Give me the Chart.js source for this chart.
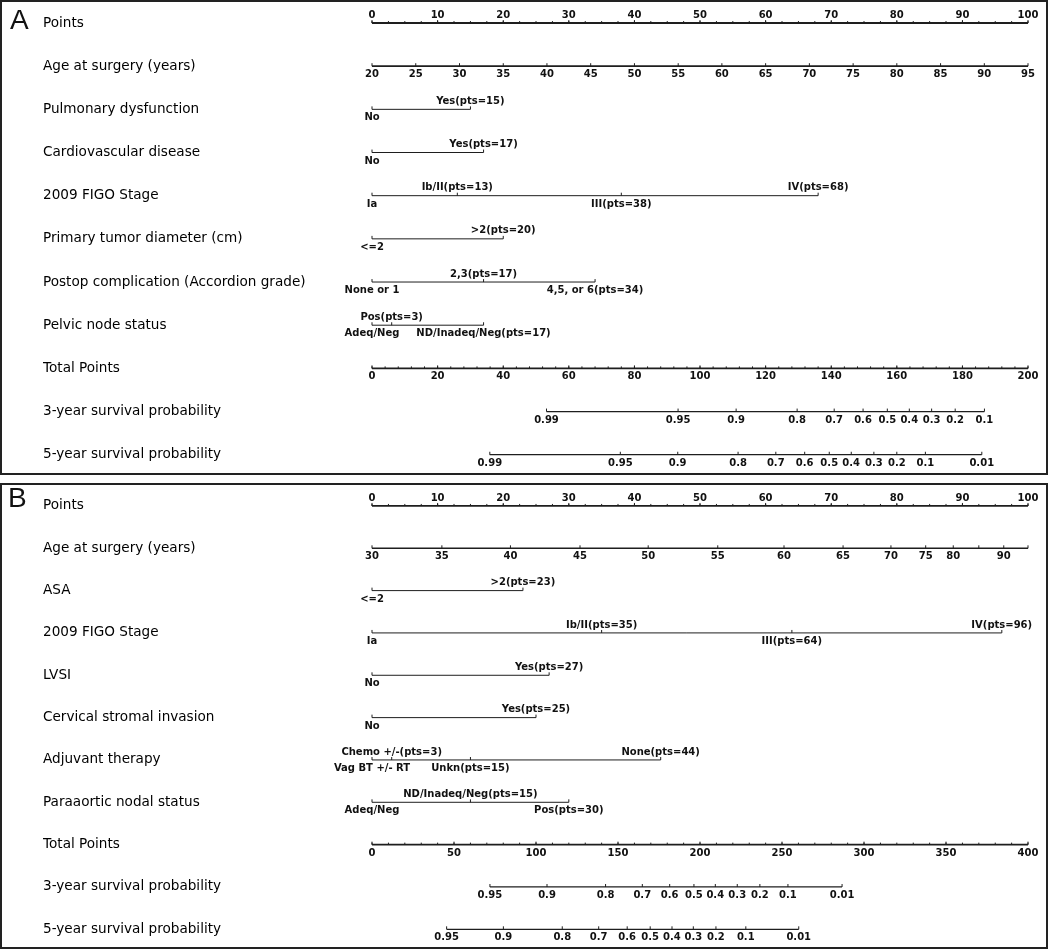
<!DOCTYPE html>
<html>
<head>
<meta charset="utf-8">
<title>Nomograms A and B</title>
<script src="https://cdn.jsdelivr.net/npm/chart.js@4.4.0/dist/chart.umd.min.js"></script>
<style>
    body { margin: 0; background: #fff; width: 1050px; height: 950px; position: relative; overflow: hidden; }
    .panel { position: absolute; left: 0; width: 1048px; border: 2px solid #222; box-sizing: border-box; }
    #panel-a { top: 0; height: 475px; }
    #panel-b { top: 483px; height: 466px; }
    .panel canvas { display: block; }
    .tag { position: absolute; font-family: "Liberation Sans", Arial, sans-serif; font-size: 28px; line-height: 1; color: #111; }
</style>
</head>
<body>
<div class="panel" id="panel-a"><canvas id="chart-a" width="1044" height="471"></canvas></div>
<div class="panel" id="panel-b"><canvas id="chart-b" width="1044" height="462"></canvas></div>
<span class="tag" style="left:10px; top:6px;">A</span>
<span class="tag" style="left:8px; top:484px;">B</span>

<script>
// --- Panel A data ---
const rowsA = ['Points', 'Age at surgery (years)', 'Pulmonary dysfunction', 'Cardiovascular disease',
    '2009 FIGO Stage', 'Primary tumor diameter (cm)', 'Postop complication (Accordion grade)',
    'Pelvic node status', 'Total Points', '3-year survival probability', '5-year survival probability'];

const pointsTicks = [0, 10, 20, 30, 40, 50, 60, 70, 80, 90, 100];
const ageATicks = [20, 25, 30, 35, 40, 45, 50, 55, 60, 65, 70, 75, 80, 85, 90, 95];

const pulmText = ['No', 'Yes(pts=15)'];
const pulmPts = [0, 15];
const cardioText = ['No', 'Yes(pts=17)'];
const cardioPts = [0, 17];
const figoAText = ['Ia', 'Ib/II(pts=13)', 'III(pts=38)', 'IV(pts=68)'];
const figoAPts = [0, 13, 38, 68];
const tumorText = ['<=2', '>2(pts=20)'];
const tumorPts = [0, 20];
const postopText = ['None or 1', '2,3(pts=17)', '4,5, or 6(pts=34)'];
const postopPts = [0, 17, 34];
const pelvicText = ['Adeq/Neg', 'Pos(pts=3)', 'ND/Inadeq/Neg(pts=17)'];
const pelvicPts = [0, 3, 17];

const totalATicks = [0, 20, 40, 60, 80, 100, 120, 140, 160, 180, 200];
const surv3AText = ['0.99', '0.95', '0.9', '0.8', '0.7', '0.6', '0.5', '0.4', '0.3', '0.2', '0.1'];
const surv3ATotal = [53.2, 93.3, 111.0, 129.6, 140.9, 149.7, 157.1, 163.8, 170.6, 177.8, 186.7];
const surv5AText = ['0.99', '0.95', '0.9', '0.8', '0.7', '0.6', '0.5', '0.4', '0.3', '0.2', '0.1', '0.01'];
const surv5ATotal = [35.9, 75.7, 93.2, 111.6, 123.1, 131.9, 139.4, 146.1, 153.0, 160.0, 168.7, 185.9];

// --- Panel B data ---
const rowsB = ['Points', 'Age at surgery (years)', 'ASA', '2009 FIGO Stage', 'LVSI',
    'Cervical stromal invasion', 'Adjuvant therapy', 'Paraaortic nodal status', 'Total Points',
    '3-year survival probability', '5-year survival probability'];

// age is non-linear here, so keep the points each age sits on
const ageBText = ['30', '35', '40', '45', '50', '55', '60', '65', '70', '75', '80', '', '90', ''];
const ageBPts = [0, 10.65, 21.1, 31.7, 42.1, 52.7, 62.8, 71.8, 79.1, 84.4, 88.6, 92.5, 96.3, 100];

const asaText = ['<=2', '>2(pts=23)'];
const asaPts = [0, 23];
const figoBText = ['Ia', 'Ib/II(pts=35)', 'III(pts=64)', 'IV(pts=96)'];
const figoBPts = [0, 35, 64, 96];
const lvsiText = ['No', 'Yes(pts=27)'];
const lvsiPts = [0, 27];
const stromaText = ['No', 'Yes(pts=25)'];
const stromaPts = [0, 25];
const adjText = ['Vag BT +/- RT', 'Chemo +/-(pts=3)', 'Unkn(pts=15)', 'None(pts=44)'];
const adjPts = [0, 3, 15, 44];
const paraText = ['Adeq/Neg', 'ND/Inadeq/Neg(pts=15)', 'Pos(pts=30)'];
const paraPts = [0, 15, 30];

const totalBTicks = [0, 50, 100, 150, 200, 250, 300, 350, 400];
const surv3BText = ['0.95', '0.9', '0.8', '0.7', '0.6', '0.5', '0.4', '0.3', '0.2', '0.1', '0.01'];
const surv3BTotal = [71.9, 106.7, 142.4, 164.8, 181.5, 196.3, 209.3, 222.7, 236.5, 253.6, 286.6];
const surv5BText = ['0.95', '0.9', '0.8', '0.7', '0.6', '0.5', '0.4', '0.3', '0.2', '0.1', '0.01'];
const surv5BTotal = [45.5, 80.1, 116.0, 138.2, 155.6, 169.6, 182.9, 195.9, 209.7, 227.9, 260.2];

// --- Styling ---
const INK = '#1e1e1e';
const TICK_FONT = 'bold 10px "DejaVu Sans", sans-serif';

// small upward ticks, used as point styles
function makeTick(len) {
    const c = document.createElement('canvas');
    c.width = 3;
    c.height = 8;
    const g = c.getContext('2d');
    g.fillStyle = INK;
    g.fillRect(1, 4 - len, 1, len);
    return c;
}
const majorTick = makeTick(3);
const minorTick = makeTick(2);

function minorTicks(max, step) {
    const out = [];
    for (let v = 0; v <= max + 1e-9; v += step) out.push(v);
    return out;
}

function lineDs(row, from, to, axis, width) {
    return {
        type: 'line',
        data: [{ x: from, y: row }, { x: to, y: row }],
        xAxisID: axis,
        borderColor: INK,
        borderWidth: width,
        pointRadius: 0,
        clip: false
    };
}

function tickDs(row, xs, axis, texts, sides, style) {
    return {
        type: 'scatter',
        data: xs.map(x => ({ x, y: row })),
        xAxisID: axis,
        pointStyle: style || majorTick,
        pointRadius: 3,
        tickText: texts || null,
        textSide: sides || null,
        clip: false
    };
}

function catRow(row, texts, pts, sides) {
    return [
        lineDs(row, Math.min(...pts), Math.max(...pts), 'x', 1),
        tickDs(row, pts, 'x', texts, sides)
    ];
}

function survRow(row, texts, totals) {
    return [
        lineDs(row, totals[0], totals[totals.length - 1], 'xTot', 1.2),
        tickDs(row, totals, 'xTot', texts, texts.map(() => 'b'))
    ];
}

// text next to each tick, placed through the dataset's own point positions
const tickTextPlugin = {
    id: 'tickText',
    afterDatasetsDraw(chart) {
        const ctx = chart.ctx;
        ctx.save();
        ctx.font = TICK_FONT;
        ctx.fillStyle = '#111';
        ctx.textAlign = 'center';
        ctx.textBaseline = 'middle';
        chart.data.datasets.forEach((ds, i) => {
            if (!ds.tickText) return;
            const meta = chart.getDatasetMeta(i);
            meta.data.forEach((pt, j) => {
                const t = ds.tickText[j];
                if (!t) return;
                const dy = ds.textSide[j] === 'a' ? -8 : 8.5;
                ctx.fillText(t, pt.x, pt.y + dy);
            });
        });
        ctx.restore();
    }
};

function makeChart(canvasId, rows, datasets, ageRange, totalMax, pad) {
    const ctx = document.getElementById(canvasId).getContext('2d');
    const scales = {
        x: { type: 'linear', min: 0, max: 100, display: false },
        xTot: { type: 'linear', axis: 'x', min: 0, max: totalMax, display: false },
        y: {
            type: 'linear',
            reverse: true,
            min: -0.3,
            max: rows.length - 1 + 0.3,
            grid: { display: false },
            border: { display: false },
            afterBuildTicks: scale => {
                scale.ticks = rows.map((_, i) => ({ value: i }));
            },
            afterFit: scale => {
                scale.width = 329;
                scale.paddingTop = 0;
                scale.paddingBottom = 0;
            },
            ticks: {
                autoSkip: false,
                padding: 0,
                crossAlign: 'far',
                color: '#000',
                font: { family: '"DejaVu Sans", sans-serif', size: 13.6 },
                callback: v => rows[v]
            }
        }
    };
    if (ageRange) {
        scales.xAge = { type: 'linear', axis: 'x', min: ageRange[0], max: ageRange[1], display: false };
    }
    return new Chart(ctx, {
        type: 'scatter',
        data: { datasets },
        options: {
            responsive: false,
            animation: false,
            events: [],
            layout: { padding: pad },
            plugins: { legend: { display: false }, tooltip: { enabled: false } },
            scales
        },
        plugins: [tickTextPlugin]
    });
}

// --- Panel A ---
const dsA = [
    lineDs(0, 0, 100, 'x', 1.8),
    tickDs(0, minorTicks(100, 2.5), 'x', null, null, minorTick),
    tickDs(0, pointsTicks, 'x', pointsTicks.map(String), pointsTicks.map(() => 'a')),

    lineDs(1, 20, 95, 'xAge', 1.6),
    tickDs(1, ageATicks, 'xAge', ageATicks.map(String), ageATicks.map(() => 'b')),

    ...catRow(2, pulmText, pulmPts, ['b', 'a']),
    ...catRow(3, cardioText, cardioPts, ['b', 'a']),
    ...catRow(4, figoAText, figoAPts, ['b', 'a', 'b', 'a']),
    ...catRow(5, tumorText, tumorPts, ['b', 'a']),
    ...catRow(6, postopText, postopPts, ['b', 'a', 'b']),
    ...catRow(7, pelvicText, pelvicPts, ['b', 'a', 'b']),

    lineDs(8, 0, 200, 'xTot', 1.6),
    tickDs(8, minorTicks(200, 4), 'xTot', null, null, minorTick),
    tickDs(8, totalATicks, 'xTot', totalATicks.map(String), totalATicks.map(() => 'b')),

    ...survRow(9, surv3AText, surv3ATotal),
    ...survRow(10, surv5AText, surv5ATotal)
];
makeChart('chart-a', rowsA, dsA, [20, 95], 200,
    { left: 41, right: 18, top: 8.05, bottom: 5.35 });

// --- Panel B ---
const dsB = [
    lineDs(0, 0, 100, 'x', 1.8),
    tickDs(0, minorTicks(100, 2.5), 'x', null, null, minorTick),
    tickDs(0, pointsTicks, 'x', pointsTicks.map(String), pointsTicks.map(() => 'a')),

    lineDs(1, 0, 100, 'x', 1.6),
    tickDs(1, ageBPts, 'x', ageBText, ageBText.map(() => 'b')),

    ...catRow(2, asaText, asaPts, ['b', 'a']),
    ...catRow(3, figoBText, figoBPts, ['b', 'a', 'b', 'a']),
    ...catRow(4, lvsiText, lvsiPts, ['b', 'a']),
    ...catRow(5, stromaText, stromaPts, ['b', 'a']),
    ...catRow(6, adjText, adjPts, ['b', 'a', 'b', 'a']),
    ...catRow(7, paraText, paraPts, ['b', 'a', 'b']),

    lineDs(8, 0, 400, 'xTot', 1.6),
    tickDs(8, minorTicks(400, 10), 'xTot', null, null, minorTick),
    tickDs(8, totalBTicks, 'xTot', totalBTicks.map(String), totalBTicks.map(() => 'b')),

    ...survRow(9, surv3BText, surv3BTotal),
    ...survRow(10, surv5BText, surv5BTotal)
];
makeChart('chart-b', rowsB, dsB, null, 400,
    { left: 41, right: 18, top: 8.22, bottom: 2.22 });
</script>
</body>
</html>
